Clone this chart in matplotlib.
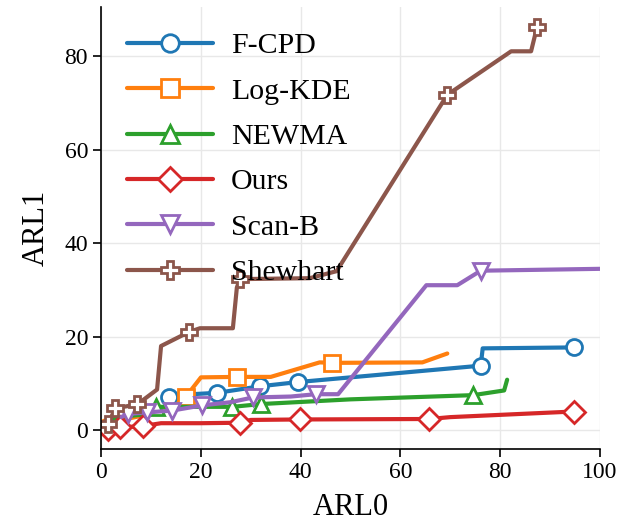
import numpy as np
import matplotlib
matplotlib.use("Agg")
import matplotlib.pyplot as plt

plt.rcParams["font.family"] = ["Liberation Serif", "DejaVu Serif"]
plt.rcParams["mathtext.fontset"] = "stix"

# ARL0 / ARL1 curves
fcpd_x = [13.5, 16.5, 23.3, 31.9, 39.5, 50.0, 76.1, 76.5, 94.8]
fcpd_y = [7.0, 7.6, 8.0, 9.4, 10.3, 11.3, 13.8, 17.5, 17.7]
fcpd_mark = [0, 2, 3, 4, 6, 8]

kde_x = [0.5, 5.0, 10.0, 12.0, 14.5, 17.0, 20.0, 27.3, 34.0, 43.8, 46.3, 64.4, 69.4]
kde_y = [2.0, 2.4, 3.5, 4.8, 5.0, 7.2, 11.3, 11.4, 11.4, 14.5, 14.4, 14.5, 16.4]
kde_mark = [5, 7, 10]

newma_x = [1.0, 5.0, 10.0, 11.0, 20.0, 26.3, 32.1, 50.0, 74.6, 80.8, 81.4]
newma_y = [2.0, 3.0, 3.5, 5.0, 5.0, 5.0, 5.6, 6.6, 7.5, 8.5, 10.8]
newma_mark = [3, 5, 6, 8]

ours_x = [0.5, 1.4, 3.8, 8.4, 12.0, 20.0, 27.8, 30.0, 39.8, 65.8, 70.0, 94.8]
ours_y = [0.8, 0.3, 0.6, 0.9, 1.5, 1.5, 1.6, 2.2, 2.3, 2.4, 2.8, 4.0]
ours_mark = [1, 2, 3, 6, 8, 9, 11]

scanb_x = [4.0, 5.4, 9.2, 14.2, 20.2, 26.0, 30.4, 38.0, 43.0, 47.5, 65.2, 71.4, 76.1, 100.0]
scanb_y = [2.8, 3.5, 3.8, 4.2, 5.3, 6.0, 7.0, 7.2, 7.7, 7.7, 31.0, 31.0, 34.1, 34.5]
scanb_mark = [1, 2, 3, 4, 6, 8, 12]

shew_x = [1.4, 2.8, 7.2, 11.2, 12.0, 17.6, 19.8, 26.4, 27.2, 27.8, 41.8, 47.2, 69.4, 82.2, 86.2, 87.4]
shew_y = [1.3, 4.7, 5.5, 8.7, 18.0, 21.0, 21.8, 21.8, 30.5, 32.3, 32.5, 34.0, 71.7, 81.0, 81.0, 86.2]
shew_mark = [0, 1, 2, 5, 9, 12, 15]

series = [
    ("F-CPD", fcpd_x, fcpd_y, fcpd_mark, "o", "#1f77b4", 11.5),
    ("Log-KDE", kde_x, kde_y, kde_mark, "s", "#ff7f0e", 11.5),
    ("NEWMA", newma_x, newma_y, newma_mark, "^", "#2ca02c", 12),
    ("Ours", ours_x, ours_y, ours_mark, "D", "#d62728", 11),
    ("Scan-B", scanb_x, scanb_y, scanb_mark, "v", "#9467bd", 12),
    ("Shewhart", shew_x, shew_y, shew_mark, "P", "#8c564b", 12),
]

fig = plt.figure(figsize=(6.21, 5.30), dpi=100)
ax = fig.add_axes([0.163, 0.153, 0.803, 0.834])

for name, xs, ys, mk, m, c, ms in series:
    ax.plot(xs, ys, color=c, lw=3, marker=m, markevery=mk, ms=ms,
            mfc="white", mec=c, mew=2, label=name, solid_capstyle="round")

ax.set_xlim(0, 100)
ax.set_xticks([0, 20, 40, 60, 80, 100])
ax.set_yticks([0, 20, 40, 60, 80])
ax.grid(True, color="#e8e8e8", lw=1)
ax.set_axisbelow(True)
for s in ["top", "right"]:
    ax.spines[s].set_visible(False)
for s in ["left", "bottom"]:
    ax.spines[s].set_linewidth(1.2)
ax.tick_params(labelsize=17, length=6, width=1.2, direction="out")
ax.set_xlabel("ARL0", fontsize=22, labelpad=7)
ax.set_ylabel("ARL1", fontsize=22, labelpad=10)

ax.legend(loc="upper left", frameon=False, fontsize=21.5, handlelength=2.9,
          handletextpad=0.6, labelspacing=0.62, markerscale=1.1,
          borderaxespad=0.5, borderpad=0.35)

fig.savefig("out.png", dpi=100)
